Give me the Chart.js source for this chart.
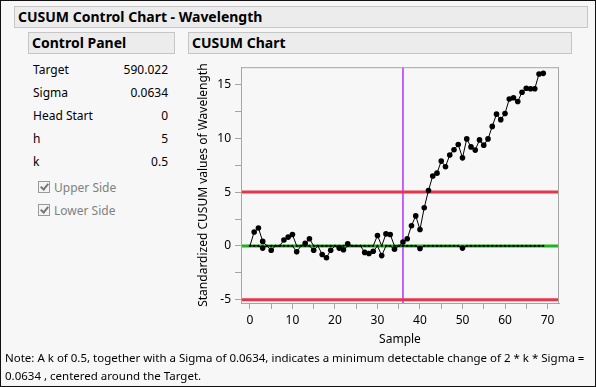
<!DOCTYPE html>
<html>
<head>
<meta charset="utf-8">
<script src="https://cdn.jsdelivr.net/npm/chart.js@4"></script>
<style>
  body { margin: 0; }
  #page {
    position: relative; width: 596px; height: 387px; box-sizing: border-box;
    border: 1px solid #111; background: #f7f7f7; overflow: hidden;
    font-family: "Noto Sans", sans-serif; color: #000;
  }
  .hdr {
    position: absolute; box-sizing: border-box; background: #ececec;
    border: 1px solid #c6c6c6; font-weight: bold; font-size: 14px;
    line-height: 20px; padding-left: 3px; white-space: nowrap;
  }
  .row { position: absolute; left: 32px; width: 135px; font-size: 12px; }
  .row span { position: absolute; right: 0; }
  .chk { position: absolute; left: 37px; font-size: 12px; color: #808080; }
  .chk i {
    display: inline-block; width: 10px; height: 10px; border: 1px solid #999;
    margin-right: 4px; vertical-align: -1px; position: relative; background: #f4f4f4;
  }
  .chk i:after {
    content: ""; position: absolute; left: 3px; top: 0px; width: 3px; height: 6px;
    border: solid #777; border-width: 0 2px 2px 0; transform: rotate(40deg);
  }
  #wrap { position: absolute; left: 184px; top: 55px; width: 395px; height: 300px; }
  #note { position: absolute; left: 4px; top: 348px; font-size: 11.5px; line-height: 18px; white-space: nowrap; }
</style>
</head>
<body>
<div id="page">
  <div class="hdr" style="left:13px; top:5px; width:574px; height:22px;">CUSUM Control Chart - Wavelength</div>
  <div class="hdr" style="left:27px; top:31px; width:147px; height:22px;">Control Panel</div>
  <div class="hdr" style="left:187px; top:31px; width:384px; height:22px;">CUSUM Chart</div>

  <div class="row" style="top:60px;">Target<span>590.022</span></div>
  <div class="row" style="top:83px;">Sigma<span>0.0634</span></div>
  <div class="row" style="top:106px;">Head Start<span>0</span></div>
  <div class="row" style="top:129px;">h<span>5</span></div>
  <div class="row" style="top:152px;">k<span>0.5</span></div>
  <div class="chk" style="top:178px;"><i></i>Upper Side</div>
  <div class="chk" style="top:201px;"><i></i>Lower Side</div>

  <div id="wrap"><canvas id="cusumChart"></canvas></div>

  <div id="note">Note: A k of 0.5, together with a Sigma of 0.0634, indicates a minimum detectable change of 2 * k * Sigma =<br>0.0634 , centered around the Target.</div>
</div>

<script>
// Sample numbers
const samples = [0, 1, 2, 3, 4, 5, 6, 7, 8, 9, 10, 11, 12, 13, 14, 15, 16, 17, 18, 19,
  20, 21, 22, 23, 24, 25, 26, 27, 28, 29, 30, 31, 32, 33, 34, 35, 36, 37, 38, 39,
  40, 41, 42, 43, 44, 45, 46, 47, 48, 49, 50, 51, 52, 53, 54, 55, 56, 57, 58, 59,
  60, 61, 62, 63, 64, 65, 66, 67, 68, 69];

// Upper (positive) standardized cumulative sums
const upperCusum = [0, 1.3, 1.67, 0.42, 0, 0, 0, 0, 0.55, 0.82,
  1.06, 0, 0, 0.24, 0.67, 0, 0, 0, 0, 0,
  0, 0, 0, 0.2, 0, 0, 0, 0, 0, 0,
  0.97, 0, 1.12, 1.06, 0, 0, 0.36, 0.67, 1.88, 2.79,
  1.52, 3.55, 5.15, 6.5, 6.76, 7.88, 7.36, 8.45, 8.94, 9.42,
  8.18, 9.94, 9.2, 8.9, 9.85, 9.36, 9.94, 11.1, 12.24, 11.73,
  12.3, 13.64, 13.76, 13.42, 14.27, 14.64, 14.6, 14.6, 15.97, 16.03];

// Lower (negative) standardized cumulative sums
const lowerCusum = [0, 0, 0, -0.2, 0, -0.4, 0, 0, 0, 0,
  0, -0.55, 0, 0, 0, -0.4, 0, -0.8, -1.1, -0.4,
  0, -0.2, -0.36, 0, 0, 0, 0, -0.6, -0.7, -0.5,
  0, -0.9, 0, 0, -0.3, 0, 0, 0, 0, 0,
  -0.24, 0, 0, 0, 0, 0, 0, 0, 0, 0,
  -0.2, 0, 0, 0, 0, 0, 0, 0, 0, 0,
  0, 0, 0, 0, 0, 0, 0, 0, 0, 0];

const hLimit = 5;
const centerValue = 0;
const shiftSample = 36;
const xRange = [-2.1, 72.7];
const yRange = [-5.3, 16.6];
const yTicks = [-5, -2.5, 0, 2.5, 5, 7.5, 10, 12.5, 15];
const xTicks = [0, 5, 10, 15, 20, 25, 30, 35, 40, 45, 50, 55, 60, 65, 70];

function toPoints(values) {
  return samples.map((s, i) => ({ x: s, y: values[i] }));
}

function hLine(value) {
  return [{ x: xRange[0], y: value }, { x: xRange[1], y: value }];
}

function pointSize(ctx) {
  const v = ctx.raw && ctx.raw.y;
  return v === 0 ? 1.1 : 2.8;
}

// frame around the plot area and the vertical marker line
const framePlugin = {
  id: 'frame',
  beforeDatasetsDraw(chart) {
    const { ctx, chartArea, scales } = chart;
    const px = scales.x.getPixelForValue(shiftSample);
    ctx.save();
    ctx.strokeStyle = '#a000ff';
    ctx.lineWidth = 1.2;
    ctx.beginPath();
    ctx.moveTo(px, chartArea.top);
    ctx.lineTo(px, chartArea.bottom);
    ctx.stroke();
    ctx.restore();
  },
  afterDraw(chart) {
    const { ctx, chartArea } = chart;
    ctx.save();
    ctx.strokeStyle = '#a5a5a5';
    ctx.lineWidth = 1;
    ctx.strokeRect(chartArea.left + 0.5, chartArea.top + 0.5,
      chartArea.right - chartArea.left - 1, chartArea.bottom - chartArea.top);
    ctx.restore();
  }
};

function initCusumChart() {
  const ctx = document.getElementById('cusumChart');
  new Chart(ctx, {
    type: 'line',
    data: {
      datasets: [
        {
          label: 'Upper CUSUM',
          data: toPoints(upperCusum),
          borderColor: '#000',
          backgroundColor: '#000',
          borderWidth: 1,
          pointRadius: pointSize,
          pointBorderWidth: 0,
          tension: 0,
          order: 0
        },
        {
          label: 'Lower CUSUM',
          data: toPoints(lowerCusum),
          borderColor: '#000',
          backgroundColor: '#000',
          borderWidth: 1,
          pointRadius: pointSize,
          pointBorderWidth: 0,
          tension: 0,
          order: 0
        },
        {
          label: 'Center',
          data: hLine(centerValue),
          borderColor: '#1db41d',
          borderWidth: 3,
          pointRadius: 0,
          order: 2
        },
        {
          label: 'UCL',
          data: hLine(hLimit),
          borderColor: '#e8344a',
          borderWidth: 3,
          pointRadius: 0,
          order: 2
        },
        {
          label: 'LCL',
          data: hLine(-hLimit),
          borderColor: '#e8344a',
          borderWidth: 3,
          pointRadius: 0,
          order: 2
        }
      ]
    },
    options: {
      responsive: true,
      maintainAspectRatio: false,
      animation: false,
      layout: { padding: { left: 0, top: 9, right: 21, bottom: 0 } },
      scales: {
        x: {
          type: 'linear',
          min: xRange[0],
          max: xRange[1],
          afterBuildTicks: (scale) => { scale.ticks = xTicks.map(v => ({ value: v })); },
          afterFit: (scale) => { scale.height = 53; },
          grid: { drawOnChartArea: false, color: '#a5a5a5', tickLength: 6 },
          border: { color: '#a5a5a5' },
          ticks: {
            padding: 4,
            autoSkip: false,
            maxRotation: 0,
            color: '#000',
            font: { family: 'Noto Sans', size: 12 },
            callback: (v) => (v % 10 === 0 ? v : '')
          },
          title: {
            display: true,
            text: 'Sample',
            color: '#000',
            font: { family: 'Noto Sans', size: 12 },
            padding: { top: 0, bottom: 9 }
          }
        },
        y: {
          min: yRange[0],
          max: yRange[1],
          afterBuildTicks: (scale) => { scale.ticks = yTicks.map(v => ({ value: v })); },
          afterFit: (scale) => { scale.width = 56; },
          grid: { drawOnChartArea: false, color: '#a5a5a5', tickLength: 6 },
          border: { color: '#a5a5a5' },
          ticks: {
            padding: 4,
            color: '#000',
            font: { family: 'Noto Sans', size: 12 },
            callback: (v) => (v % 5 === 0 ? v : '')
          },
          title: {
            display: true,
            text: 'Standardized CUSUM values of Wavelength',
            color: '#000',
            font: { family: 'Noto Sans', size: 12 },
            padding: { top: 11, bottom: 0 }
          }
        }
      },
      plugins: {
        legend: { display: false },
        tooltip: { enabled: false }
      }
    },
    plugins: [framePlugin]
  });
}

document.addEventListener('DOMContentLoaded', initCusumChart);
</script>
</body>
</html>
